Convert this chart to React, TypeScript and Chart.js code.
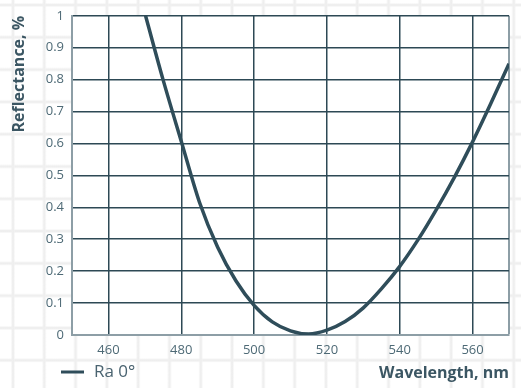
import React, { useEffect, useRef } from "react";
import { Chart, registerables } from "chart.js";

Chart.register(...registerables);

const seriesLabel = "Ra 0°";
const wavelengths = [470.2, 475, 480, 485, 490, 495, 500, 505, 510, 515, 520, 525, 530, 535, 540, 545, 550, 555, 560, 565, 570];
const reflectance = [1.0, 0.8, 0.607, 0.416, 0.275, 0.17, 0.093, 0.041, 0.013, 0.003, 0.015, 0.042, 0.085, 0.145, 0.215, 0.298, 0.392, 0.494, 0.605, 0.725, 0.85];
const xTicks = [460, 480, 500, 520, 540, 560];
const xMin = 450;
const xMax = 570;
const yMin = 0;
const yMax = 1;
const yStep = 0.1;
const xTitle = "Wavelength, nm";
const yTitle = "Reflectance, %";

const FONT = "'Open Sans', 'Noto Sans', sans-serif";
const DARK = "#2d4955";
const BORDER = "#8d9ea6";
const LINE = "#2f4d5a";
const TICK = "#4e6a76";
const TITLE = "#3b5663";

export default function App() {
  const ref = useRef<HTMLCanvasElement | null>(null);

  useEffect(() => {
    if (!ref.current) return;
    const plotBg = {
      id: "plotBg",
      beforeDraw(chart: any) {
        const { ctx, chartArea } = chart;
        ctx.save();
        ctx.fillStyle = "#ffffff";
        ctx.fillRect(chartArea.left, chartArea.top, chartArea.right - chartArea.left, chartArea.bottom - chartArea.top);
        ctx.restore();
      },
    };
    const legendPlugin = {
      id: "customLegend",
      afterDraw(chart: any) {
        const { ctx } = chart;
        const ds = chart.data.datasets[0];
        ctx.save();
        ctx.strokeStyle = ds.borderColor;
        ctx.lineWidth = 3;
        ctx.beginPath();
        ctx.moveTo(61, 372);
        ctx.lineTo(84, 372);
        ctx.stroke();
        ctx.fillStyle = "#4a6370";
        ctx.font = `17px ${FONT}`;
        ctx.textBaseline = "middle";
        ctx.textAlign = "left";
        ctx.fillText(ds.label, 94, 372);
        ctx.restore();
      },
    };

    const chart = new Chart(ref.current, {
      type: "line",
      data: {
        datasets: [
          {
            label: seriesLabel,
            data: wavelengths.map((w, i) => ({ x: w, y: reflectance[i] })),
            borderColor: LINE,
            borderWidth: 3.5,
            pointRadius: 0,
            cubicInterpolationMode: "monotone",
            fill: false,
          },
        ],
      },
      options: {
        responsive: false,
        animation: false,
        devicePixelRatio: 1,
        layout: { padding: { top: 12, right: 12, left: 0, bottom: 0 } },
        plugins: { legend: { display: false }, tooltip: { enabled: false } },
        scales: {
          x: {
            type: "linear",
            min: xMin,
            max: xMax,
            afterBuildTicks: (scale: any) => {
              scale.ticks = [...xTicks, xMax].map((v) => ({ value: v }));
            },
            afterFit: (scale: any) => {
              scale.height = 53;
            },
            ticks: {
              autoSkip: false,
              maxRotation: 0,
              padding: 7,
              color: TICK,
              font: { family: FONT, size: 13 },
              callback: (v: any) => (v === xMax ? "" : String(v)),
            },
            grid: {
              drawTicks: false,
              color: (c: any) => (c.tick && c.tick.value === xMax ? BORDER : DARK),
              lineWidth: (c: any) => (c.tick && c.tick.value === xMax ? 2 : 1.5),
            },
            border: { display: true, color: BORDER, width: 2 },
            title: {
              display: true,
              text: xTitle,
              align: "end",
              color: TITLE,
              font: { family: FONT, size: 16, weight: "bold" },
              padding: { top: 0, bottom: 5 },
            },
          },
          y: {
            type: "linear",
            min: yMin,
            max: yMax,
            afterFit: (scale: any) => {
              scale.width = 72;
            },
            ticks: {
              stepSize: yStep,
              padding: 8,
              color: TICK,
              font: { family: FONT, size: 13 },
              callback: (v: any) => String(Number(Number(v).toFixed(1))),
            },
            grid: {
              drawTicks: false,
              color: (c: any) => (c.tick && c.tick.value === 0 ? "rgba(0,0,0,0)" : DARK),
              lineWidth: 1.5,
            },
            border: { display: true, color: BORDER, width: 2 },
            title: {
              display: true,
              text: yTitle,
              align: "end",
              color: TITLE,
              font: { family: FONT, size: 16, weight: "bold" },
              padding: { top: 10, bottom: 0 },
            },
          },
        },
      },
      plugins: [plotBg, legendPlugin],
    } as any);
    return () => chart.destroy();
  }, []);

  return (
    <div
      style={{
        position: "absolute",
        left: 0,
        top: 0,
        width: 521,
        height: 388,
        backgroundColor: "#ffffff",
        backgroundImage:
          "linear-gradient(to right, transparent 0px, #f2f2f2 1px, #ececec 2px, #f2f2f2 3px, transparent 4px), linear-gradient(to bottom, transparent 0px, #f2f2f2 1px, #ececec 2px, #f2f2f2 3px, transparent 4px)",
        backgroundSize: "31.3px 32.3px",
        backgroundPosition: "11px 3px",
      }}
    >
      <canvas ref={ref} width={521} height={388} style={{ display: "block" }} />
    </div>
  );
}
